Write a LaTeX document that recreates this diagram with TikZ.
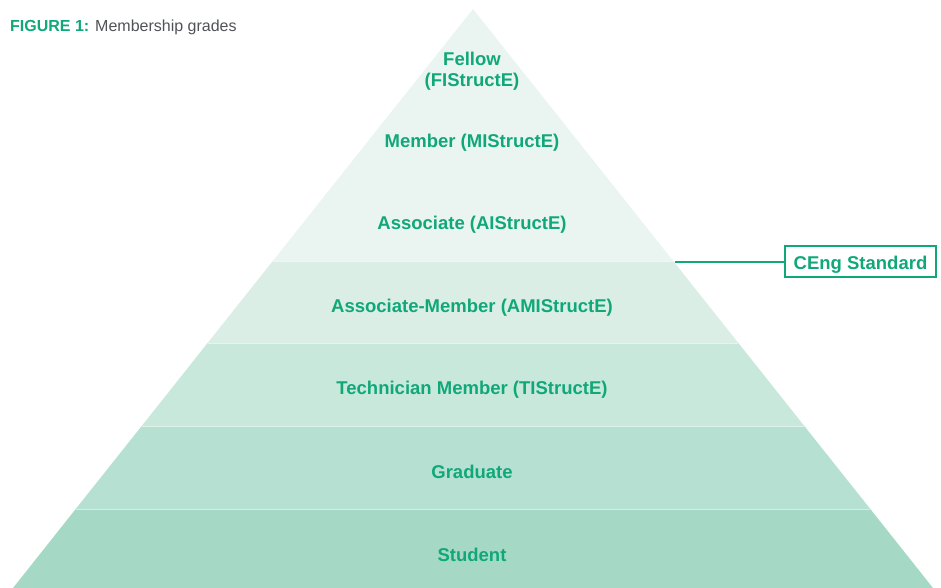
\documentclass[tikz,border=0pt]{standalone}
\usepackage{fontspec}
\setmainfont{Liberation Sans}
\usetikzlibrary{calc}
\definecolor{tgreen}{RGB}{16,168,120}
\definecolor{tgray}{RGB}{80,82,86}
\definecolor{bandA}{RGB}{234,245,241}
\definecolor{bandB}{RGB}{218,238,230}
\definecolor{bandC}{RGB}{200,232,220}
\definecolor{bandD}{RGB}{182,224,210}
\definecolor{bandE}{RGB}{165,217,198}
\tikzset{
  lbl/.style={text=tgreen, font=\fontsize{18.5}{21}\selectfont\bfseries, align=center, inner sep=0pt},
  sep/.style={draw=white, draw opacity=0.55, line width=0.9pt},
  cengbox/.style={draw=tgreen, line width=1.3pt, text=tgreen, font=\fontsize{18.5}{21}\selectfont\bfseries, minimum width=151pt, minimum height=31pt, inner sep=0pt, text height=17pt, text depth=2pt},
}
\begin{document}
\begin{tikzpicture}[x=1pt,y=-1pt]
\useasboundingbox (0,0) rectangle (941,588);
\coordinate (apex) at (473,9);
\coordinate (bl) at (13,588);
\coordinate (br) at (933,588);
% band boundaries
\coordinate (l1) at (272.8,261); \coordinate (r1) at (673.2,261);
\coordinate (l2) at (207.6,343); \coordinate (r2) at (738.4,343);
\coordinate (l3) at (141.7,426); \coordinate (r3) at (804.3,426);
\coordinate (l4) at (75.7,509);  \coordinate (r4) at (870.3,509);
\fill[bandA] (apex) -- (r1) -- (l1) -- cycle;
\fill[bandB] (l1) -- (r1) -- (r2) -- (l2) -- cycle;
\fill[bandC] (l2) -- (r2) -- (r3) -- (l3) -- cycle;
\fill[bandD] (l3) -- (r3) -- (r4) -- (l4) -- cycle;
\fill[bandE] (l4) -- (r4) -- (br) -- (bl) -- cycle;
\draw[sep] (l1) -- (r1);
\draw[sep] (l2) -- (r2);
\draw[sep] (l3) -- (r3);
\draw[sep] (l4) -- (r4);
% title
\node[anchor=west, inner sep=0pt, font=\fontsize{16}{18}\selectfont] (title) at (10,27)
  {\textcolor{tgreen}{\bfseries FIGURE 1:} \textcolor{tgray}{Membership grades}};
% labels
\node[lbl] (fellow) at (472,71) {Fellow\\(FIStructE)};
\node[lbl] (member) at (472,143) {Member (MIStructE)};
\node[lbl] (assoc) at (472,224.5) {Associate (AIStructE)};
\node[lbl] (amember) at (472,307.5) {Associate-Member (AMIStructE)};
\node[lbl] (tech) at (472,389.5) {Technician Member (TIStructE)};
\node[lbl] (grad) at (472,472) {Graduate};
\node[lbl] (student) at (472,555) {Student};
% CEng standard
\node[cengbox] (ceng) at (860.5,261.5) {CEng Standard};
\coordinate (cengstart) at (675,262);
\draw[tgreen, line width=1.5pt] (cengstart) -- (cengstart -| ceng.west);
\end{tikzpicture}
\end{document}
